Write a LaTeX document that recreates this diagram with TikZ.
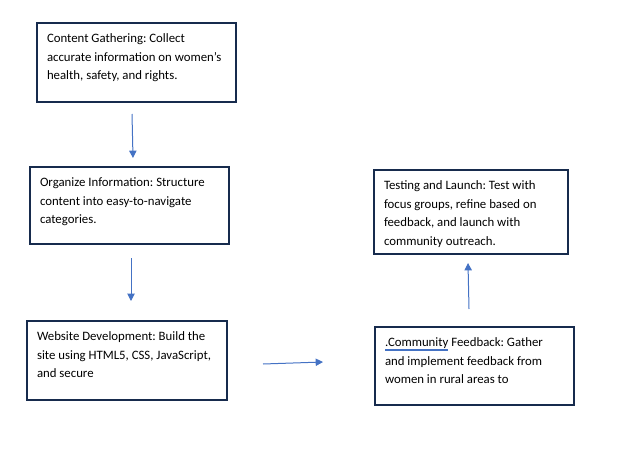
\documentclass[tikz,border=0pt]{standalone}
\usepackage{fontspec}
\setmainfont{Carlito}
\usetikzlibrary{arrows.meta}
\definecolor{boxedge}{RGB}{23,43,77}
\definecolor{flowblue}{RGB}{68,114,196}
\newdimen\pixel
\pixel=0.75pt
% top aligned text inside a box of w x h pixels
\newcommand{\stagetext}[3]{\parbox[t][\dimexpr#2\pixel-9pt\relax][t]{\dimexpr#1\pixel-15pt\relax}{\raggedright\frenchspacing\vspace*{0.8pt}\strut#3}}
\newsavebox{\flagbox}
\newcommand{\flagged}[1]{\sbox{\flagbox}{#1}%
  \rlap{\color{flowblue}\raisebox{-1.9pt}{\rule{\wd\flagbox}{0.35pt}}}%
  \rlap{\color{flowblue}\raisebox{-2.9pt}{\rule{\wd\flagbox}{0.35pt}}}%
  \usebox{\flagbox}}
\begin{document}
\begin{tikzpicture}
  [x=0.75pt,y=-0.75pt,
   stage/.style={rectangle,draw=boxedge,line width=0.85pt,anchor=north west,
                 inner xsep=7.5pt,inner ysep=4.5pt,outer sep=0,
                 font=\fontsize{9.6pt}{13.8pt}\selectfont},
   flow/.style={draw=flowblue,line width=0.75pt,-{Triangle[width=5.5pt,length=5.5pt]}}]
  \useasboundingbox (0,0) rectangle (641,467);
  \node[stage] (C) at (37,23) {\stagetext{199}{79}{Content Gathering: Collect\\accurate information on women’s\\health, safety, and rights.}};
  \node[stage] (O) at (30,167) {\stagetext{199}{77}{Organize Information: Structure\\content into easy-to-navigate\\categories.}};
  \node[stage] (W) at (27,321) {\stagetext{200}{79}{Website Development: Build the\\site using HTML5, CSS, JavaScript,\\and secure}};
  \node[stage] (F) at (375,327) {\stagetext{199}{78}{\flagged{.Community} Feedback: Gather\\and implement feedback from\\women in rural areas to}};
  \node[stage] (T) at (374,170) {\stagetext{194}{84}{Testing and Launch: Test with\\focus groups, refine based on\\feedback, and launch with\\community outreach.}};
  % free arrow ends
  \coordinate (c1) at (132,114);
  \coordinate (c2) at (133,158);
  \coordinate (o1) at (131,258);
  \coordinate (o2) at (131,301);
  \coordinate (w1) at (263,364);
  \coordinate (w2) at (323,362);
  \coordinate (f1) at (469,309);
  \coordinate (f2) at (468,263);
  \draw[flow] (c1) to (c2);
  \draw[flow] (o1) to (o2);
  \draw[flow] (w1) to (w2);
  \draw[flow] (f1) to (f2);
\end{tikzpicture}
\end{document}
